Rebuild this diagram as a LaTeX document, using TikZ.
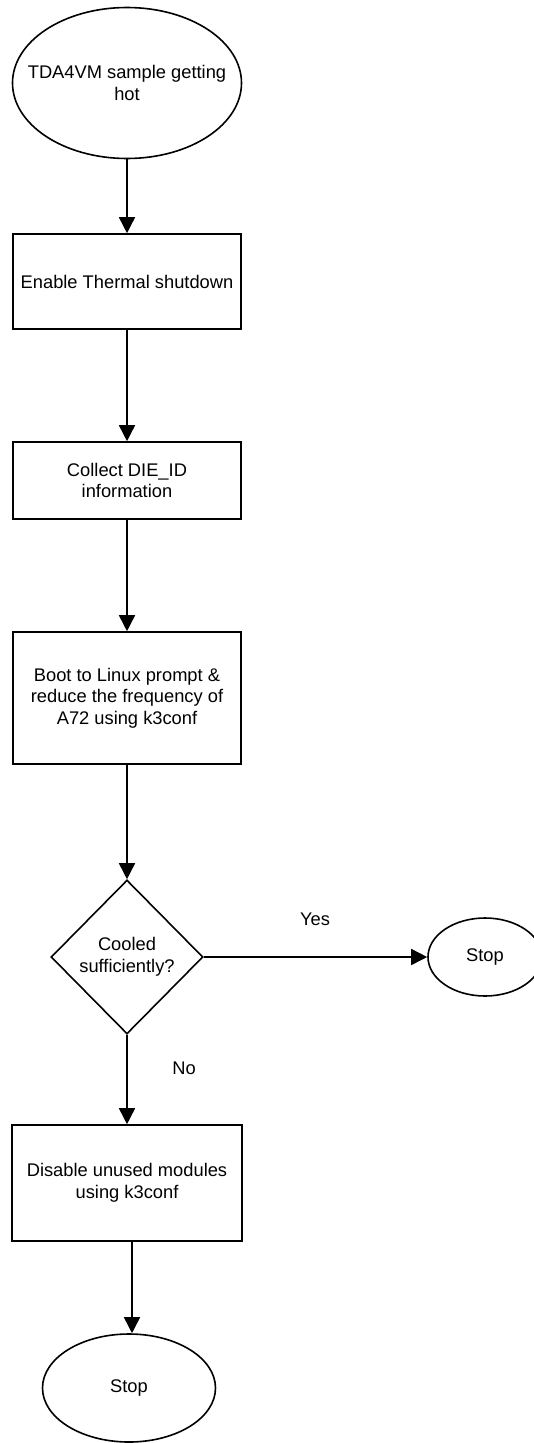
\documentclass[tikz,border=0pt]{standalone}
\usepackage{fontspec}
\setmainfont{Liberation Sans}
\usetikzlibrary{shapes.geometric,arrows.meta}
\begin{document}
\begin{tikzpicture}[x=1pt,y=-1pt,
  every node/.style={font=\fontsize{18.3}{21.5}\selectfont, align=center, inner sep=0pt},
  term/.style={ellipse, draw, line width=1.6pt},
  procbox/.style={rectangle, draw, line width=1.6pt, minimum width=228pt},
  decbox/.style={diamond, draw, line width=1.6pt, minimum width=152pt, minimum height=154pt},
  flow/.style={line width=1.6pt, -{Triangle[width=16pt,length=16pt]}},
  lbl/.style={}]
\useasboundingbox (0,0) rectangle (534,1443);
\node[term, minimum width=229pt, minimum height=151pt,
  label={[align=center,font=\fontsize{18.3}{21.5}\selectfont]center:TDA4VM sample getting\\hot}] (start) at (127,83) {};
\node[procbox, minimum height=95pt] (b1) at (127,281.5) {Enable Thermal shutdown};
\node[procbox, minimum height=77pt] (b2) at (127,480.5) {Collect DIE\_ID\\information};
\node[procbox, minimum height=132pt] (b3) at (127,698) {Boot to Linux prompt \&\\reduce the frequency of\\A72 using k3conf};
\node[decbox] (dec) at (127,957) {Cooled\\sufficiently?};
\node[term, minimum width=114pt, minimum height=78pt] (stopr) at (485,957) {Stop};
\node[procbox, minimum width=230pt, minimum height=116pt] (b4) at (127,1183) {Disable unused modules\\using k3conf};
\node[term, minimum width=173pt, minimum height=108pt] (stopb) at (129,1388) {Stop};
\node[lbl] (yes) at (315,919) {Yes};
\node[lbl] (no) at (184,1068) {No};
\draw[flow] (start.south) -- (b1.north);
\draw[flow] (b1.south) -- (b2.north);
\draw[flow] (b2.south) -- (b3.north);
\draw[flow] (b3.south) -- (dec.north);
\draw[flow] (dec.east) -- (stopr.west);
\draw[flow] (dec.south) -- (b4.north);
\draw[flow] ([xshift=5pt]b4.south) -- ([xshift=5pt]b4.south |- stopb.north);
\end{tikzpicture}
\end{document}
